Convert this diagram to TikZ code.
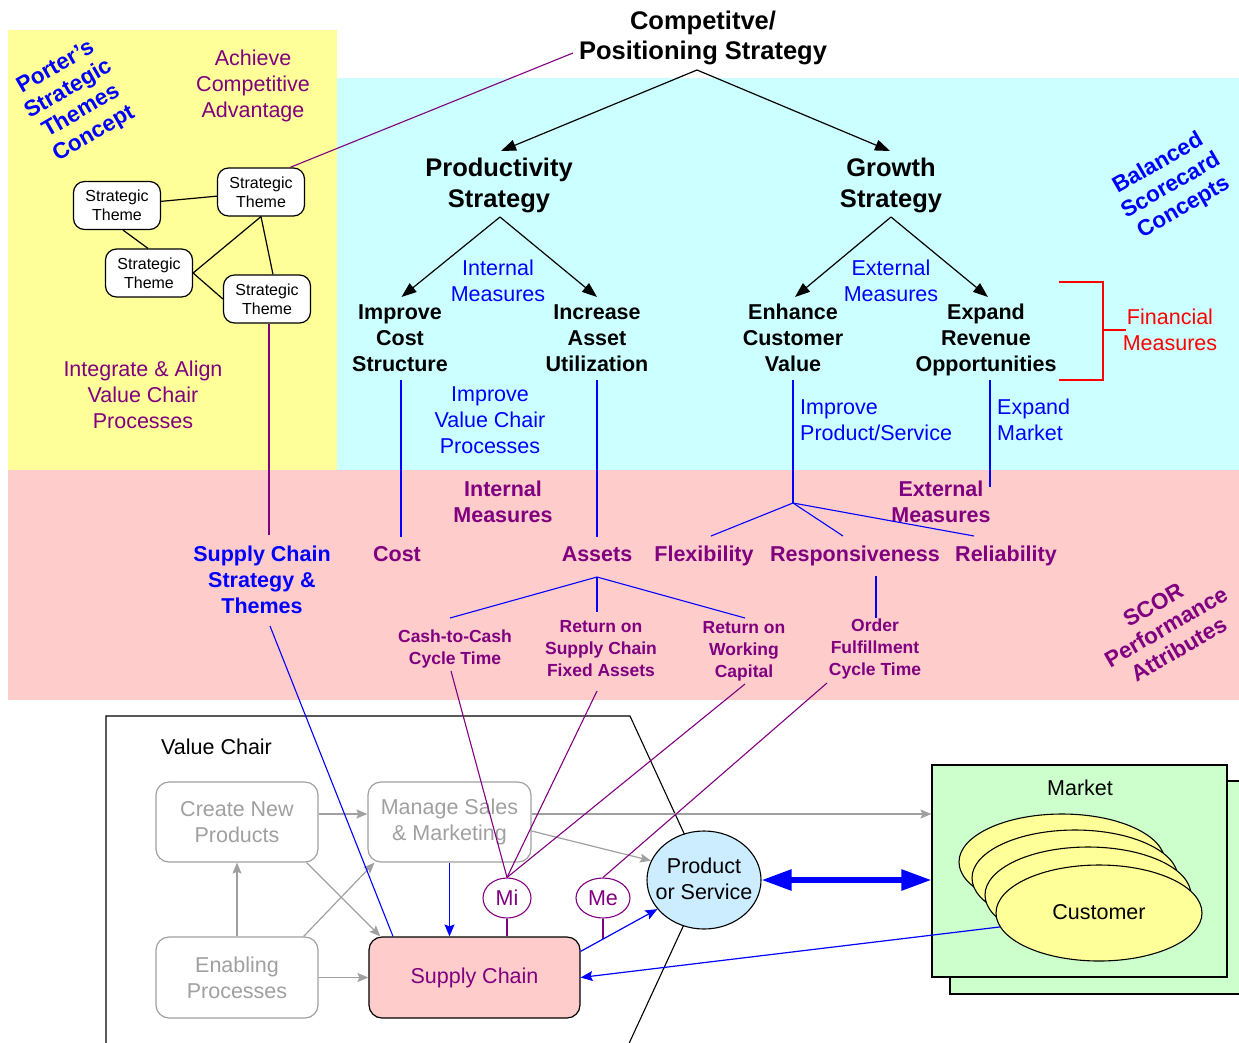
\documentclass[tikz,border=0pt]{standalone}
\usepackage{fontspec}
\setmainfont{Liberation Sans}
\usetikzlibrary{arrows.meta,shapes.geometric,calc}

\definecolor{pyellow}{HTML}{FFFF99}
\definecolor{pcyan}{HTML}{CCFFFF}
\definecolor{ppink}{HTML}{FFCCCC}
\definecolor{pgreen}{HTML}{CCFFCC}
\definecolor{plblue}{HTML}{CCECFF}
\definecolor{ppurple}{HTML}{800080}
\definecolor{pblue}{HTML}{0000FF}
\definecolor{pred}{HTML}{FF0000}
\definecolor{pgray}{HTML}{A0A0A0}

\newcommand{\pzTitle}{\fontsize{25.5}{30.5}\selectfont\bfseries}
\newcommand{\pzHead}{\fontsize{21.5}{26}\selectfont\bfseries}
\newcommand{\pzLabel}{\fontsize{21.5}{26}\selectfont}
\newcommand{\pzMetric}{\fontsize{17.5}{22}\selectfont\bfseries}
\newcommand{\pzTheme}{\fontsize{16}{19}\selectfont}
\newcommand{\pzCaption}{\fontsize{22.5}{25.5}\selectfont\bfseries}

\begin{document}
\begin{tikzpicture}[x=1pt,y=-1pt,
  txt/.style={inner sep=0pt,align=center},
  title/.style={txt,font=\pzTitle},
  head/.style={txt,font=\pzHead},
  lbl/.style={txt,font=\pzLabel},
  metric/.style={txt,font=\pzMetric,text=ppurple},
  caption/.style={txt,rotate=30,font=\pzCaption},
  theme/.style={draw,fill=white,line width=1.2pt,rounded corners=11pt,
    minimum width=87pt,minimum height=48pt,inner sep=0pt,align=center,font=\pzTheme},
  vcbox/.style={draw=pgray,fill=white,line width=1.2pt,rounded corners=13pt,
    minimum width=162pt,minimum height=80pt,inner sep=0pt,align=center,
    text=pgray,font=\pzLabel},
  metricnode/.style={ellipse,draw=ppurple,fill=white,line width=1.1pt,
    minimum height=40pt,inner sep=0pt,text=ppurple,font=\pzLabel},
  cust/.style={ellipse,draw,fill=pyellow,line width=1.1pt,
    minimum width=206pt,minimum height=96pt,inner sep=0pt},
  treearrow/.style={line width=1.2pt,-{Triangle[length=15pt,width=11pt]}},
  grayarrow/.style={draw=pgray,line width=1.2pt,
    -{Stealth[length=11pt,width=9pt,inset=2pt]},pgray},
  bluearrow/.style={pblue,line width=1.2pt,
    -{Stealth[length=12pt,width=10pt,inset=2pt]}},
  blueline/.style={pblue,line width=1.1pt},
  purpleline/.style={ppurple,line width=1.1pt},
  redline/.style={pred,line width=1.1pt},
]
\useasboundingbox (0,0) rectangle (1239,1042);

% ---- coloured panels ----
\fill[pyellow] (8,30) rectangle (337,470);
\fill[pcyan] (337,78) rectangle (1239,470);
\fill[ppink] (8,470) rectangle (1239,700);

% ---- rotated panel captions ----
\node[caption,text=pblue] (porter) at (75,101) {Porter’s\\Strategic\\Themes\\Concept};
\node[caption,text=pblue] (bsc) at (1171,186) {Balanced\\Scorecard\\Concepts};
\node[caption,text=ppurple] (scor) at (1166,627) {SCOR\\Performance\\Attributes};

% ---- strategy tree ----
\node[title] (cps) at (703,38) {Competitve/\\Positioning Strategy};
\node[title] (prod) at (499,185.5) {Productivity\\Strategy};
\node[title] (grow) at (891,185.5) {Growth\\Strategy};

\node[head] (cost) at (400,338) {Improve\\Cost\\Structure};
\node[head] (asset) at (597,338) {Increase\\Asset\\Utilization};
\node[head] (enh) at (793,338) {Enhance\\Customer\\Value};
\node[head] (rev) at (986,340) {Expand\\Revenue\\Opportunities};

\node[lbl,text=pblue] (intm) at (498,281) {Internal\\Measures};
\node[lbl,text=pblue] (extm) at (891,281) {External\\Measures};
\node[lbl,text=pblue] (ivc) at (490,420) {Improve\\Value Chair\\Processes};
\node[lbl,text=pblue,align=left,anchor=west] (ips) at (800,420) {Improve\\Product/Service};
\node[lbl,text=pblue,align=left,anchor=west] (emk) at (997,420) {Expand\\Market};
\node[lbl,text=pred] (fin) at (1170,330) {Financial\\Measures};

\node[lbl,text=ppurple] (ach) at (253,86) {Achieve\\Competitive\\Advantage};
\node[lbl,text=ppurple] (integ) at (143,395) {Integrate \& Align\\Value Chair\\Processes};

% ---- strategic themes ----
\node[theme] (t1) at (117,205.5) {Strategic\\Theme};
\node[theme] (t2) at (261,192) {Strategic\\Theme};
\node[theme] (t3) at (149,273) {Strategic\\Theme};
\node[theme] (t4) at (267,299) {Strategic\\Theme};

% ---- SCOR attributes ----
\node[head,text=ppurple] (pintm) at (503,501.5) {Internal\\Measures};
\node[head,text=ppurple] (pextm) at (941,501.5) {External\\Measures};
\node[head,text=pblue] (scst) at (262,580) {Supply Chain\\Strategy \&\\Themes};
\node[head,text=ppurple] (scost) at (397,554) {Cost};
\node[head,text=ppurple] (sassets) at (597,554) {Assets};
\node[head,text=ppurple] (sflex) at (704,556) {Flexibility};
\node[head,text=ppurple] (sresp) at (855,556) {Responsiveness};
\node[head,text=ppurple] (srel) at (1006,556) {Reliability};

\node[metric] (m1) at (455,649) {Cash-to-Cash\\Cycle Time};
\node[metric] (m2) at (601,649) {Return on\\Supply Chain\\Fixed Assets};
\node[metric] (m3) at (744,651) {Return on\\Working\\Capital};
\node[metric] (m4) at (875,649) {Order\\Fulfillment\\Cycle Time};

% ---- value chain ----
\draw[line width=1.1pt] (106,1050) -- (106,716) -- (630,716) -- (705,879) -- (626,1050);
\node[lbl,anchor=west] (vclbl) at (161,747) {Value Chair};

\node[vcbox] (cn) at (237,822) {Create New\\Products};
\node[vcbox,minimum width=163pt] (ms) at (449.5,822) {Manage Sales\\\& Marketing};
\node[vcbox,minimum height=81pt] (en) at (237,977.5) {Enabling\\Processes};
\node[vcbox,draw=black,fill=ppink,text=ppurple,minimum width=211pt,minimum height=81pt]
  (sc) at (474.5,977.5) {Supply Chain};

\node[metricnode,minimum width=48pt] (mi) at (507,898) {Mi};
\node[metricnode,minimum width=54pt] (me) at (603,898) {Me};

\node[ellipse,draw,fill=plblue,line width=1.1pt,minimum width=114pt,minimum height=98pt,
  inner sep=0pt] (pos) at (704,880) {};
\node[lbl] (poslbl) at (704,879) {Product\\or Service};

% ---- market ----
\draw[fill=pgreen,line width=1.1pt] (950,781) rectangle (1250,994);
\node[draw,fill=pgreen,line width=1.1pt,minimum width=295pt,minimum height=212pt,inner sep=0pt]
  (mkt) at (1079.5,871) {};
\node[lbl] (mktlbl) at (1080,788) {Market};
\node[cust] (c1) at (1062,862) {};
\node[cust] (c2) at (1075,878) {};
\node[cust] (c3) at (1088,895) {};
\node[cust] (c4) at (1099,913) {};
\node[lbl] (custlbl) at (1099,912) {Customer};

% ---- connector end points ----
\coordinate (cpsB) at (697,70);
\coordinate (cpsL) at (573,53);
\coordinate (prodT) at (501,151);
\coordinate (growT) at (890,151);
\coordinate (prodB) at (500,217);
\coordinate (growB) at (891,217);
\coordinate (costT) at (401.5,297);
\coordinate (assetT) at (597,297);
\coordinate (enhT) at (795,297);
\coordinate (revT) at (988,297);
\coordinate (costB) at (401,380);
\coordinate (assetB) at (597,380);
\coordinate (enhB) at (793,380);
\coordinate (revB) at (990,380);
\coordinate (scostT) at (401,537);
\coordinate (sassetsT) at (597,537);
\coordinate (extApex) at (793,503);
\coordinate (revEnd) at (990,487);
\coordinate (sflexT) at (711,536);
\coordinate (srespT) at (843,536);
\coordinate (srelT) at (974,536);
\coordinate (assetsB) at (597,577);
\coordinate (m1T) at (450,618);
\coordinate (m2T) at (597,612);
\coordinate (m3T) at (745,618);
\coordinate (srespB) at (876,576);
\coordinate (m4T) at (876,618);
\coordinate (m1B) at (451,671);
\coordinate (m2B) at (597,691);
\coordinate (m3B) at (745,684);
\coordinate (m4B) at (827,683);
\coordinate (t4Line) at (269,535);
\coordinate (scstB) at (270,626);
\coordinate (finTop) at (1059,282);
\coordinate (finBot) at (1059,380);
\coordinate (finMid) at (1103,330);
\coordinate (finTick) at (1126,330);
\coordinate (meFoot) at (603,939);

% ---- strategy tree connectors ----
\draw[treearrow] (cpsB) -- (prodT);
\draw[treearrow] (cpsB) -- (growT);
\draw[treearrow] (prodB) -- (costT);
\draw[treearrow] (prodB) -- (assetT);
\draw[treearrow] (growB) -- (enhT);
\draw[treearrow] (growB) -- (revT);

% financial bracket
\draw[redline] (finTop) -- (finTop -| finMid) -- (finBot -| finMid) -- (finBot);
\draw[redline] (finMid) -- (finTick);

% themes network
\draw[line width=1.2pt] (t1) -- (t2);
\draw[line width=1.2pt] ([xshift=6pt]t1.south) -- ([xshift=-1pt]t3.north);
\draw[line width=1.2pt] (t2.south) -- (t3.east);
\draw[line width=1.2pt] (t2.south) -- ([xshift=6pt]t4.north);
\draw[line width=1.2pt] (t3.east) -- (t4.west);
\draw[purpleline] ([xshift=-15pt]t2.north east) -- (cpsL);
\draw[purpleline] ([xshift=2pt]t4.south) -- (t4Line);

% measures drop lines
\draw[blueline] (costB) -- (scostT);
\draw[blueline] (assetB) -- (sassetsT);
\draw[blueline] (enhB) -- (extApex);
\draw[blueline] (revB) -- (revEnd);
\draw[blueline] (extApex) -- (sflexT);
\draw[blueline] (extApex) -- (srespT);
\draw[blueline] (extApex) -- (srelT);
\draw[blueline] (assetsB) -- (m1T);
\draw[blueline] (assetsB) -- (m2T);
\draw[blueline] (assetsB) -- (m3T);
\draw[blueline] (srespB) -- (m4T);

% ---- value chain connectors ----
\draw[grayarrow] ([yshift=8pt]cn.east) -- ([yshift=8pt]ms.west);
\draw[grayarrow] (en.north) -- (cn.south);
\draw[grayarrow] (en.east) -- (sc.west);
\draw[grayarrow] ([xshift=-12pt]cn.south east) -- ([xshift=12pt]sc.north west);
\draw[grayarrow] ([xshift=-15pt]en.north east) -- ([xshift=7pt]ms.south west);
\draw[grayarrow] ([yshift=8pt]ms.east) -- ([yshift=8pt]ms.east -| mkt.west);
\draw[grayarrow] ([yshift=-9pt]ms.east) -- (pos.160);
\draw[bluearrow] (ms.south) -- (ms.south |- sc.north);

\draw[blueline] (scstB) -- ([xshift=-81.5pt]sc.north);
\draw[purpleline] (m1B) -- (mi.north);
\draw[purpleline] (m2B) -- (mi.north);
\draw[purpleline] (m3B) -- (mi.north);
\draw[purpleline] (m4B) -- (me.north);
\draw[purpleline] (mi.south) -- (mi.south |- sc.north);
\draw[purpleline] (me.south) -- (meFoot);

\draw[bluearrow] ([yshift=-15pt]sc.north east) -- (pos.212);
\draw[bluearrow] (c4.188) -- (sc.east);
\draw[pblue,line width=5.5pt,{Triangle[length=30pt,width=20pt]}-{Triangle[length=30pt,width=20pt]}]
  (pos.east) -- (pos.east -| mkt.west);

\end{tikzpicture}
\end{document}
